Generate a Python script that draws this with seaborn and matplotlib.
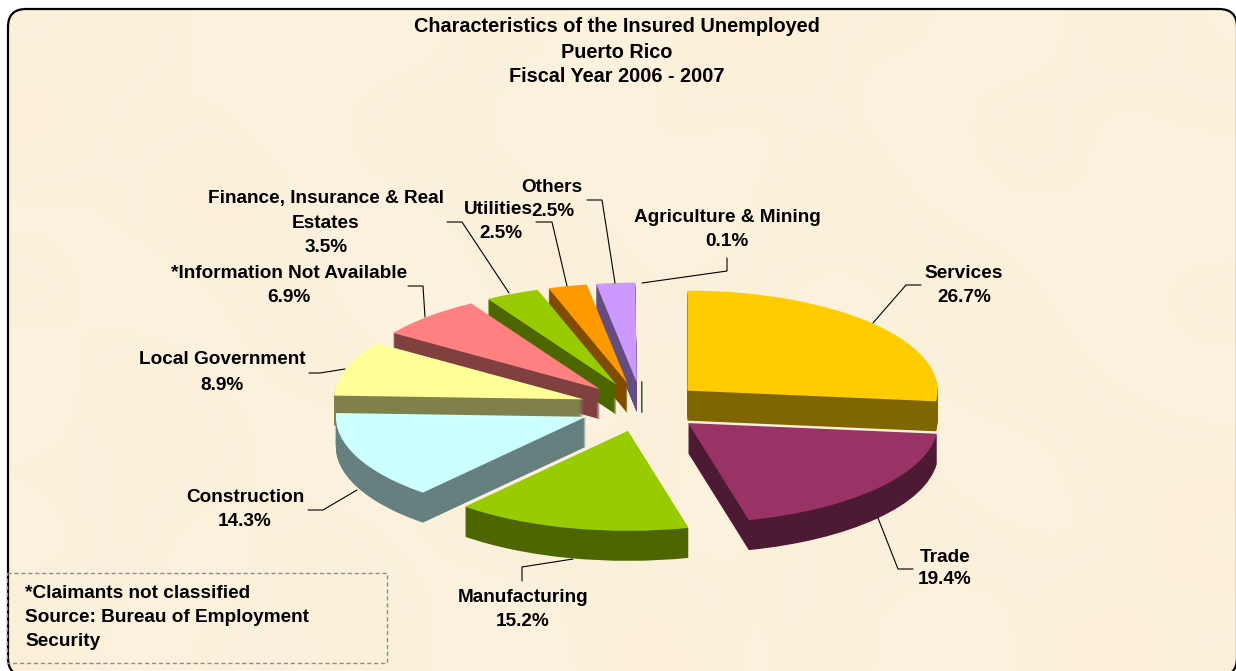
import matplotlib

matplotlib.use("Agg")
import matplotlib.pyplot as plt
import numpy as np
import seaborn as sns
from matplotlib.colors import LinearSegmentedColormap, to_rgb
from matplotlib.patches import FancyBboxPatch, Rectangle

# slices, clockwise from 12 o'clock
sectors = [
    "Services",
    "Trade",
    "Manufacturing",
    "Construction",
    "Local Government",
    "*Information Not Available",
    "Finance, Insurance & Real Estates",
    "Utilities",
    "Others",
    "Agriculture & Mining",
]
shares = [26.7, 19.4, 15.2, 14.3, 8.9, 6.9, 3.5, 2.5, 2.5, 0.1]
top_colors = [
    "#FFCC00",
    "#993366",
    "#99CC00",
    "#CCFFFF",
    "#FFFF99",
    "#FF8080",
    "#99CC00",
    "#FF9900",
    "#CC99FF",
    "#339966",
]
title_lines = [
    "Characteristics of the Insured Unemployed",
    "Puerto Rico",
    "Fiscal Year 2006 - 2007",
]
note_lines = [
    "*Claimants not classified",
    "Source: Bureau of Employment",
    "Security",
]
# hand-placed light and dark blotches of the paper backdrop
paper_tints = [
    [5, 3, 6, 4, 7, 3, 5, 6, 2, 5, 4, 7, 3, 5],
    [2, 6, 4, 7, 2, 5, 8, 3, 6, 4, 7, 2, 6, 4],
    [6, 4, 2, 5, 6, 3, 4, 7, 5, 2, 5, 6, 4, 7],
    [3, 7, 5, 3, 8, 5, 2, 5, 3, 7, 3, 4, 7, 3],
    [7, 2, 6, 4, 3, 6, 7, 4, 6, 4, 6, 2, 5, 6],
    [4, 5, 3, 7, 5, 2, 5, 3, 8, 2, 5, 7, 3, 4],
    [6, 3, 7, 2, 6, 4, 3, 6, 4, 5, 3, 4, 6, 2],
    [3, 6, 4, 5, 3, 7, 5, 2, 6, 3, 7, 5, 2, 5],
]

W, H = 1236, 671
FONT = "Liberation Sans"
# back to front, so near slices hide the walls of far ones
draw_order = [0, 1, 9, 8, 7, 6, 5, 4, 3, 2]

sns.set_theme(style="white")
plt.rcParams["font.family"] = [FONT, "DejaVu Sans"]

fig = plt.figure(figsize=(W / 100, H / 100), dpi=100, facecolor="white")

# pixel-coordinate layer for frame, text and leader lines
bg = fig.add_axes([0, 0, 1, 1], zorder=0)
# nearly clear fill: agg bends curves of an unfilled path that leaves the canvas
frame = FancyBboxPatch(
    (8, 9),
    1229,
    667,
    boxstyle="round,pad=0,rounding_size=18",
    fc=(1, 1, 1, 0.004),
    ec="black",
    lw=1.6,
    zorder=3,
)
bg.add_patch(frame)
paper_cmap = LinearSegmentedColormap.from_list("paper", ["#FAEDD3", "#FEF6E6"])
tex = bg.imshow(
    np.array(paper_tints),
    cmap=paper_cmap,
    vmin=1,
    vmax=9,
    extent=(0, W, H, 0),
    interpolation="bicubic",
    aspect="auto",
    zorder=1,
)
tex.set_clip_path(frame)
bg.set_xlim(0, W)
bg.set_ylim(H, 0)
bg.axis("off")

# pie axes: one data unit is 250 px across and 100 px up, which gives the tilt
ax = fig.add_axes([0, 0, 1, 1], zorder=1)
wall_colors = [tuple(v * 0.5 for v in to_rgb(c)) for c in top_colors]
depth_px = 30
for step in range(depth_px + 1):
    wedges, _ = ax.pie(
        shares,
        colors=top_colors if step == 0 else wall_colors,
        startangle=90,
        counterclock=False,
        explode=[0.245] * len(shares),
        center=(0, -step / 100),
        wedgeprops={"lw": 0},
    )
    for rank, idx in enumerate(draw_order):
        wedges[idx].set_zorder(2 + rank + (depth_px - step) / 100)
    # the 0.1% sliver only shows as a thin wall at its tip
    wedges[-1].set_radius(0.01)
    wedges[-1].set_edgecolor(wall_colors[-1])
    wedges[-1].set_linewidth(0.7)
ax.set_aspect("auto")
ax.set_xlim(-642 / 250, (W - 642) / 250)
ax.set_ylim(-(H - 407) / 100, 407 / 100)
ax.patch.set_alpha(0)
ax.axis("off")

top = fig.add_axes([0, 0, 1, 1], zorder=2)
top.set_xlim(0, W)
top.set_ylim(H, 0)
top.axis("off")
top.patch.set_alpha(0)

for y, line in zip([26, 52, 76], title_lines):
    top.text(617, y, line, ha="center", va="center", fontsize=14.3, fontweight="bold", color="black")

# label text centres, one row per line
label_rows = [
    (964, 273, sectors[0]),
    (964, 297, f"{shares[0]}%"),
    (945, 557, sectors[1]),
    (945, 580, f"{shares[1]}%"),
    (523, 598, sectors[2]),
    (523, 622, f"{shares[2]}%"),
    (245, 498, sectors[3]),
    (245, 522, f"{shares[3]}%"),
    (222, 360, sectors[4]),
    (222, 385, f"{shares[4]}%"),
    (289, 273, sectors[5]),
    (289, 297, f"{shares[5]}%"),
    (326, 199, "Finance, Insurance & Real"),
    (326, 223, "Estates"),
    (326, 247, f"{shares[6]}%"),
    (498, 210, sectors[7]),
    (501, 234, f"{shares[7]}%"),
    (552, 188, sectors[8]),
    (553, 212, f"{shares[8]}%"),
    (727, 218, sectors[9]),
    (727, 242, f"{shares[9]}%"),
]
for x, y, s in label_rows:
    top.text(x, y, s, ha="center", va="center", fontsize=13.7, fontweight="bold", color="black")

leaders = [
    ([873, 906, 921], [323, 285, 285]),
    ([878, 898, 913], [518, 569, 569]),
    ([573, 522, 522], [559, 567, 581]),
    ([308, 323, 357], [510, 510, 490]),
    ([309, 320, 345], [373, 373, 369]),
    ([408, 423, 425], [286, 286, 317]),
    ([447, 462, 509], [222, 222, 293]),
    ([536, 552, 567], [222, 222, 286]),
    ([587, 602, 615], [200, 200, 283]),
    ([642, 727, 727], [283, 271, 258]),
]
for xs, ys in leaders:
    top.plot(xs, ys, color="black", lw=0.8, solid_joinstyle="miter")

top.add_patch(Rectangle((7, 573), 380, 90, fc="none", ec="#8C8C8C", lw=1.0, ls=(0, (3, 2))))
for y, line in zip([593, 617, 641], note_lines):
    top.text(25, y, line, ha="left", va="center", fontsize=13.7, fontweight="bold", color="black")

fig.savefig("out.png", dpi=100, facecolor="white")
plt.close(fig)
